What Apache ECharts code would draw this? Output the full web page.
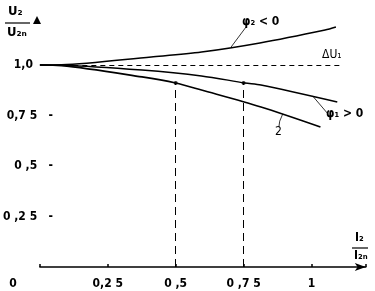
<!DOCTYPE html>
<html><head><meta charset="utf-8">
<script src="https://cdn.jsdelivr.net/npm/echarts@6/dist/echarts.min.js"></script>
<style>html,body{margin:0;padding:0;background:#fff}#c{width:375px;height:291px}</style>
</head><body><div id="c"></div>
<script>
// Data
const curvePhi2Neg = [[0,1.0],[0.08,1.001],[0.41,1.04],[0.595,1.064],[0.81,1.109],[1.05,1.173],[1.09,1.188]];
const curvePhi1Pos = [[0,1.0],[0.08,0.999],[0.376,0.975],[0.595,0.946],[0.755,0.911],[0.814,0.901],[1.095,0.817]];
const curve2 = [[0,1.0],[0.08,0.997],[0.376,0.941],[0.5,0.911],[0.595,0.876],[0.814,0.792],[1.033,0.693]];
const refLevel = 1.0;
const refStartX = 0.09, refEndX = 1.117;
const dropPoints = [[0.5,0.911],[0.75,0.911]];
const xTickLabels = {0:'0', 0.25:'0,2 5', 0.5:'0 ,5', 0.75:'0 ,7 5', 1:'1'};
const yTickLabels = {0.25:'0 ,2 5', 0.5:'0 ,5', 0.75:'0,7 5', 1:'1,0'};
const leaderTop = [[0.704,1.089],[0.759,1.188]];
const leaderMid = [[1.004,0.847],[1.058,0.762]];
const leaderLow = [[0.894,0.757],[0.883,0.722],[0.880,0.693]];

const FONT = '"Liberation Sans Narrow","DejaVu Sans Condensed",sans-serif';
const chart = echarts.init(document.getElementById('c'));
const lineSt = {color:'#000', width:1.5};
function leader(pts){
  const segs=[];
  for(let i=0;i<pts.length-1;i++) segs.push([{coord:pts[i]},{coord:pts[i+1]}]);
  return segs;
}
chart.setOption({
  animation:false,
  grid:{left:37, right:9.2, top:14.5, bottom:24},
  xAxis:{type:'value', min:0, max:1.2, interval:0.25,
    axisLine:{show:true, symbol:['none','arrow'], symbolSize:[6,11], lineStyle:{color:'#000', width:1.5}},
    axisTick:{show:true, inside:true, length:3, lineStyle:{color:'#000', width:1.5}},
    splitLine:{show:false},
    axisLabel:{margin:11, color:'#000', fontFamily:FONT, fontWeight:'bold', fontSize:12,
      formatter:v=>{ if(v===0) return '{o|0}'; return xTickLabels[v]!==undefined ? xTickLabels[v] : ''; },
      rich:{o:{padding:[0,54,0,0], fontFamily:FONT, fontWeight:'bold', fontSize:12, color:'#000'}}}
  },
  yAxis:{type:'value', min:0, max:1.25, interval:0.25,
    axisLine:{show:false}, axisTick:{show:false}, splitLine:{show:false},
    axisLabel:{margin:-13, color:'#000', fontFamily:FONT, fontWeight:'bold', fontSize:12, align:'right',
      formatter:v=>{ if(v===1) return '{a|1,0}'; return yTickLabels[v]!==undefined ? yTickLabels[v]+'   -' : ''; },
      rich:{a:{padding:[0,20,0,0], fontFamily:FONT, fontWeight:'bold', fontSize:12, color:'#000'}}}
  },
  series:[
    {type:'line', data:curvePhi2Neg, smooth:0.3, showSymbol:false, lineStyle:lineSt,
      markLine:{silent:true, symbol:'none', label:{show:false}, lineStyle:{color:'#000', width:0.8, type:'solid'}, data:leader(leaderTop)}},
    {type:'line', data:curvePhi1Pos, smooth:0.3, showSymbol:false, lineStyle:lineSt,
      markLine:{silent:true, symbol:'none', label:{show:false}, lineStyle:{color:'#000', width:0.8, type:'solid'}, data:leader(leaderMid)}},
    {type:'line', data:curve2, smooth:0.3, showSymbol:false, lineStyle:{color:'#000', width:1.7},
      markLine:{silent:true, symbol:'none', label:{show:false}, lineStyle:{color:'#000', width:0.8, type:'solid'}, data:leader(leaderLow)}},
    {type:'line', data:[], markLine:{silent:true, symbol:'none', label:{show:false},
      lineStyle:{color:'#000', width:1, type:[5,4]},
      data:[[{coord:[refStartX,refLevel]},{coord:[refEndX,refLevel]}]]}},
    {type:'line', data:[], markLine:{silent:true, symbol:'none', label:{show:false},
      lineStyle:{color:'#000', width:1, type:[8,5]},
      data:dropPoints.map(p=>[{coord:[p[0],0]},{coord:[p[0],p[1]]}])}},
    {type:'scatter', data:dropPoints, symbol:'circle', symbolSize:4, itemStyle:{color:'#000'}}
  ],
  graphic:[
    {type:'polygon', shape:{points:[[37,16],[33,24],[41,24]]}, style:{fill:'#000'}},
    {type:'text', left:8, top:5, style:{text:'U₂', font:'bold 13px '+FONT, fill:'#000'}},
    {type:'line', shape:{x1:5,y1:23,x2:30,y2:23}, style:{stroke:'#000', lineWidth:1.2}},
    {type:'text', left:7, top:26, style:{text:'U₂ₙ', font:'bold 13px '+FONT, fill:'#000'}},
    {type:'text', left:355, top:232, style:{text:'I₂', font:'bold 12px '+FONT, fill:'#000'}},
    {type:'line', shape:{x1:352,y1:248,x2:368,y2:248}, style:{stroke:'#000', lineWidth:1.2}},
    {type:'text', left:354, top:250, style:{text:'I₂ₙ', font:'bold 12px '+FONT, fill:'#000'}},
    {type:'text', left:242, top:16, style:{text:'φ₂ < 0', font:'bold 12px '+FONT, fill:'#000'}},
    {type:'text', left:326, top:108, style:{text:'φ₁ > 0', font:'bold 12px '+FONT, fill:'#000'}},
    {type:'text', left:275, top:126, style:{text:'2', font:'12px '+FONT, fill:'#000'}},
    {type:'text', left:322, top:49, style:{text:'ΔU₁', font:'12px '+FONT, fill:'#000'}}
  ]
});
</script></body></html>
